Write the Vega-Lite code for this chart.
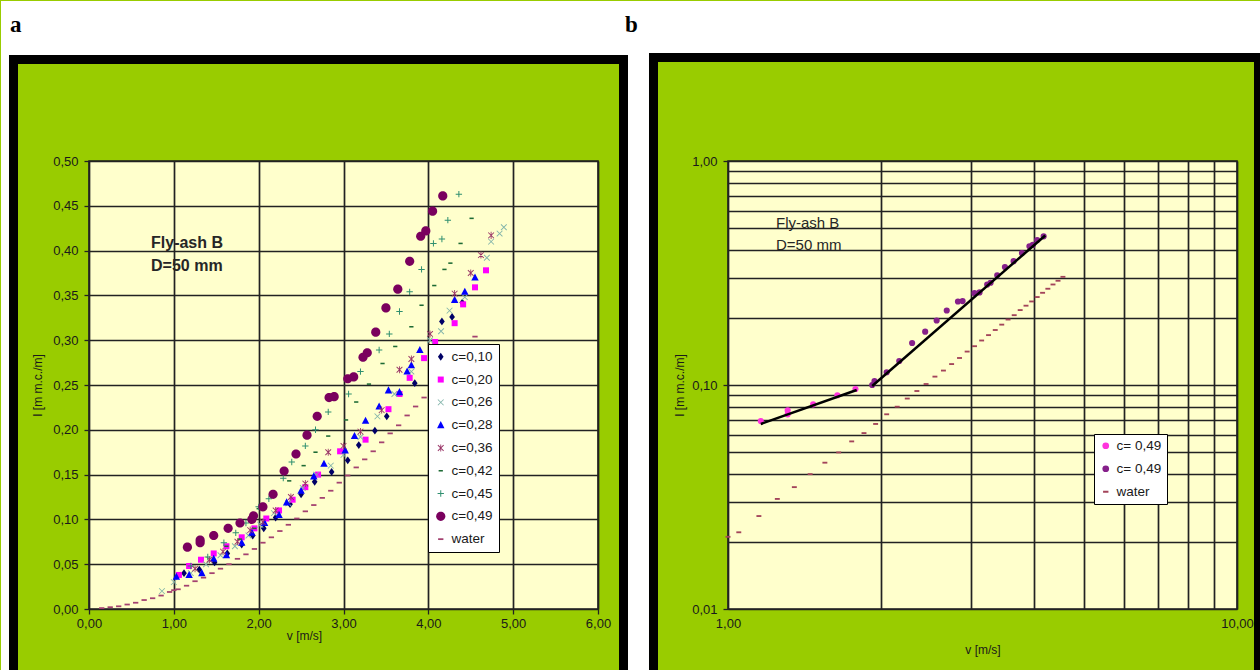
{
  "$schema": "https://vega.github.io/schema/vega-lite/v6.json",
  "background": "#99cc00",
  "padding": 0,
  "spacing": 130,
  "bounds": "flush",
  "resolve": {"scale": {"color": "independent", "shape": "independent"}, "legend": {"color": "independent", "shape": "independent"}},
  "config": {
    "locale": {"number": {"decimal": ",", "thousands": ".", "grouping": [3], "currency": ["", " €"]}},
    "view": {"fill": "#ffffcc", "stroke": "#222222", "strokeWidth": 1.6},
    "axis": {
      "labelFont": "Liberation Sans", "labelFontSize": 13, "labelColor": "#1a1a1a",
      "titleFont": "Liberation Sans", "titleFontSize": 12, "titleFontWeight": "normal", "titleColor": "#1a1a1a",
      "tickColor": "#222222", "tickSize": 5, "tickWidth": 1.3,
      "gridColor": "#222222", "gridWidth": 1.7, "gridOpacity": 1,
      "domain": false, "labelFlush": false, "labelOverlap": false
    },
    "axisX": {"labelPadding": 3},
    "axisY": {"labelPadding": 6},
    "legend": {"labelFont": "Liberation Sans", "labelFontSize": 13.5, "labelColor": "#1a1a1a"}
  },
  "datasets": {
    "pts": [
      {"s":"c=0,10","v":1.12,"I":0.040},{"s":"c=0,10","v":1.30,"I":0.044},{"s":"c=0,10","v":1.48,"I":0.052},{"s":"c=0,10","v":1.63,"I":0.062},{"s":"c=0,10","v":1.80,"I":0.072},{"s":"c=0,10","v":1.93,"I":0.082},{"s":"c=0,10","v":2.06,"I":0.090},{"s":"c=0,10","v":2.20,"I":0.102},{"s":"c=0,10","v":2.37,"I":0.117},{"s":"c=0,10","v":2.50,"I":0.128},{"s":"c=0,10","v":2.66,"I":0.142},{"s":"c=0,10","v":2.86,"I":0.153},{"s":"c=0,10","v":3.05,"I":0.166},{"s":"c=0,10","v":3.18,"I":0.183},{"s":"c=0,10","v":3.37,"I":0.199},{"s":"c=0,10","v":3.51,"I":0.215},{"s":"c=0,10","v":3.84,"I":0.252},{"s":"c=0,10","v":4.16,"I":0.321},{"s":"c=0,10","v":4.28,"I":0.326},{"s":"c=0,10","v":4.40,"I":0.342},
      {"s":"c=0,20","v":1.06,"I":0.038},{"s":"c=0,20","v":1.18,"I":0.048},{"s":"c=0,20","v":1.32,"I":0.055},{"s":"c=0,20","v":1.47,"I":0.062},{"s":"c=0,20","v":1.62,"I":0.070},{"s":"c=0,20","v":1.80,"I":0.080},{"s":"c=0,20","v":1.95,"I":0.090},{"s":"c=0,20","v":2.09,"I":0.101},{"s":"c=0,20","v":2.24,"I":0.110},{"s":"c=0,20","v":2.40,"I":0.122},{"s":"c=0,20","v":2.55,"I":0.136},{"s":"c=0,20","v":2.70,"I":0.150},{"s":"c=0,20","v":2.96,"I":0.176},{"s":"c=0,20","v":3.26,"I":0.189},{"s":"c=0,20","v":3.53,"I":0.223},{"s":"c=0,20","v":3.66,"I":0.240},{"s":"c=0,20","v":3.78,"I":0.258},{"s":"c=0,20","v":3.95,"I":0.280},{"s":"c=0,20","v":4.08,"I":0.298},{"s":"c=0,20","v":4.31,"I":0.319},{"s":"c=0,20","v":4.41,"I":0.340},{"s":"c=0,20","v":4.55,"I":0.359},{"s":"c=0,20","v":4.68,"I":0.378},
      {"s":"c=0,26","v":0.86,"I":0.020},{"s":"c=0,26","v":1.00,"I":0.030},{"s":"c=0,26","v":1.20,"I":0.040},{"s":"c=0,26","v":1.38,"I":0.050},{"s":"c=0,26","v":1.55,"I":0.060},{"s":"c=0,26","v":1.72,"I":0.070},{"s":"c=0,26","v":1.88,"I":0.082},{"s":"c=0,26","v":2.02,"I":0.094},{"s":"c=0,26","v":2.18,"I":0.107},{"s":"c=0,26","v":2.35,"I":0.118},{"s":"c=0,26","v":2.52,"I":0.135},{"s":"c=0,26","v":2.68,"I":0.150},{"s":"c=0,26","v":2.85,"I":0.160},{"s":"c=0,26","v":3.00,"I":0.172},{"s":"c=0,26","v":3.20,"I":0.192},{"s":"c=0,26","v":3.40,"I":0.215},{"s":"c=0,26","v":3.60,"I":0.240},{"s":"c=0,26","v":3.80,"I":0.265},{"s":"c=0,26","v":4.02,"I":0.300},{"s":"c=0,26","v":4.15,"I":0.310},{"s":"c=0,26","v":4.25,"I":0.333},{"s":"c=0,26","v":4.43,"I":0.348},{"s":"c=0,26","v":4.69,"I":0.392},{"s":"c=0,26","v":4.74,"I":0.410},{"s":"c=0,26","v":4.84,"I":0.419},{"s":"c=0,26","v":4.89,"I":0.426},
      {"s":"c=0,28","v":1.03,"I":0.036},{"s":"c=0,28","v":1.18,"I":0.038},{"s":"c=0,28","v":1.33,"I":0.040},{"s":"c=0,28","v":1.47,"I":0.056},{"s":"c=0,28","v":1.62,"I":0.060},{"s":"c=0,28","v":1.80,"I":0.074},{"s":"c=0,28","v":1.92,"I":0.085},{"s":"c=0,28","v":2.07,"I":0.096},{"s":"c=0,28","v":2.24,"I":0.105},{"s":"c=0,28","v":2.33,"I":0.119},{"s":"c=0,28","v":2.50,"I":0.132},{"s":"c=0,28","v":2.65,"I":0.148},{"s":"c=0,28","v":2.77,"I":0.162},{"s":"c=0,28","v":3.02,"I":0.177},{"s":"c=0,28","v":3.13,"I":0.193},{"s":"c=0,28","v":3.26,"I":0.210},{"s":"c=0,28","v":3.42,"I":0.226},{"s":"c=0,28","v":3.53,"I":0.244},{"s":"c=0,28","v":3.66,"I":0.242},{"s":"c=0,28","v":3.75,"I":0.265},{"s":"c=0,28","v":3.80,"I":0.272},{"s":"c=0,28","v":3.90,"I":0.289},{"s":"c=0,28","v":4.31,"I":0.345},{"s":"c=0,28","v":4.43,"I":0.354},{"s":"c=0,28","v":4.55,"I":0.370},
      {"s":"c=0,36","v":1.25,"I":0.045},{"s":"c=0,36","v":1.42,"I":0.055},{"s":"c=0,36","v":1.58,"I":0.064},{"s":"c=0,36","v":1.75,"I":0.075},{"s":"c=0,36","v":1.90,"I":0.088},{"s":"c=0,36","v":2.05,"I":0.097},{"s":"c=0,36","v":2.20,"I":0.110},{"s":"c=0,36","v":2.38,"I":0.125},{"s":"c=0,36","v":2.55,"I":0.140},{"s":"c=0,36","v":2.82,"I":0.175},{"s":"c=0,36","v":3.00,"I":0.182},{"s":"c=0,36","v":3.20,"I":0.198},{"s":"c=0,36","v":3.45,"I":0.222},{"s":"c=0,36","v":3.66,"I":0.267},{"s":"c=0,36","v":3.80,"I":0.279},{"s":"c=0,36","v":4.02,"I":0.307},{"s":"c=0,36","v":4.31,"I":0.352},{"s":"c=0,36","v":4.50,"I":0.375},{"s":"c=0,36","v":4.62,"I":0.395},{"s":"c=0,36","v":4.74,"I":0.417},
      {"s":"c=0,42","v":1.62,"I":0.070},{"s":"c=0,42","v":1.78,"I":0.078},{"s":"c=0,42","v":1.95,"I":0.090},{"s":"c=0,42","v":2.00,"I":0.112},{"s":"c=0,42","v":2.17,"I":0.128},{"s":"c=0,42","v":2.36,"I":0.143},{"s":"c=0,42","v":2.53,"I":0.160},{"s":"c=0,42","v":2.67,"I":0.175},{"s":"c=0,42","v":2.82,"I":0.193},{"s":"c=0,42","v":3.03,"I":0.211},{"s":"c=0,42","v":3.15,"I":0.231},{"s":"c=0,42","v":3.30,"I":0.251},{"s":"c=0,42","v":3.46,"I":0.274},{"s":"c=0,42","v":3.61,"I":0.293},{"s":"c=0,42","v":3.80,"I":0.315},{"s":"c=0,42","v":3.92,"I":0.339},{"s":"c=0,42","v":4.07,"I":0.361},{"s":"c=0,42","v":4.19,"I":0.379},{"s":"c=0,42","v":4.26,"I":0.386},{"s":"c=0,42","v":4.38,"I":0.408},{"s":"c=0,42","v":4.51,"I":0.436},
      {"s":"c=0,45","v":1.20,"I":0.048},{"s":"c=0,45","v":1.40,"I":0.058},{"s":"c=0,45","v":1.59,"I":0.074},{"s":"c=0,45","v":1.73,"I":0.085},{"s":"c=0,45","v":1.85,"I":0.096},{"s":"c=0,45","v":2.00,"I":0.114},{"s":"c=0,45","v":2.12,"I":0.123},{"s":"c=0,45","v":2.29,"I":0.146},{"s":"c=0,45","v":2.39,"I":0.164},{"s":"c=0,45","v":2.55,"I":0.182},{"s":"c=0,45","v":2.67,"I":0.200},{"s":"c=0,45","v":2.82,"I":0.220},{"s":"c=0,45","v":3.06,"I":0.240},{"s":"c=0,45","v":3.20,"I":0.265},{"s":"c=0,45","v":3.42,"I":0.289},{"s":"c=0,45","v":3.54,"I":0.307},{"s":"c=0,45","v":3.66,"I":0.332},{"s":"c=0,45","v":3.78,"I":0.354},{"s":"c=0,45","v":3.92,"I":0.379},{"s":"c=0,45","v":4.06,"I":0.408},{"s":"c=0,45","v":4.16,"I":0.413},{"s":"c=0,45","v":4.23,"I":0.434},{"s":"c=0,45","v":4.36,"I":0.463},
      {"s":"c=0,49","part":"p1","v":1.16,"I":0.069},{"s":"c=0,49","part":"p1","v":1.31,"I":0.077},{"s":"c=0,49","part":"p1","v":1.31,"I":0.074},{"s":"c=0,49","part":"p1","v":1.47,"I":0.082},{"s":"c=0,49","part":"p1","v":1.64,"I":0.090},{"s":"c=0,49","part":"p1","v":1.78,"I":0.096},{"s":"c=0,49","part":"p2","v":1.92,"I":0.100},{"s":"c=0,49","part":"p2","v":1.94,"I":0.104},{"s":"c=0,49","part":"p2","v":2.05,"I":0.114},{"s":"c=0,49","part":"p2","v":2.17,"I":0.128},{"s":"c=0,49","part":"p2","v":2.30,"I":0.154},{"s":"c=0,49","part":"p2","v":2.44,"I":0.173},{"s":"c=0,49","part":"p2","v":2.57,"I":0.194},{"s":"c=0,49","part":"p2","v":2.69,"I":0.215},{"s":"c=0,49","part":"p2","v":2.83,"I":0.236},{"s":"c=0,49","part":"p2","v":2.89,"I":0.237},{"s":"c=0,49","part":"p2","v":3.05,"I":0.257},{"s":"c=0,49","part":"p2","v":3.12,"I":0.259},{"s":"c=0,49","part":"p2","v":3.23,"I":0.281},{"s":"c=0,49","part":"p2","v":3.28,"I":0.286},{"s":"c=0,49","part":"p2","v":3.38,"I":0.309},{"s":"c=0,49","part":"p2","v":3.50,"I":0.336},{"s":"c=0,49","part":"p2","v":3.64,"I":0.357},{"s":"c=0,49","part":"p2","v":3.78,"I":0.388},{"s":"c=0,49","part":"p2","v":3.91,"I":0.416},{"s":"c=0,49","part":"p2","v":3.97,"I":0.422},{"s":"c=0,49","part":"p2","v":4.05,"I":0.444},{"s":"c=0,49","part":"p2","v":4.17,"I":0.461},
      {"s":"water","part":"water","v":0.15,"I":0.001},{"s":"water","part":"water","v":0.25,"I":0.002},{"s":"water","part":"water","v":0.35,"I":0.003},{"s":"water","part":"water","v":0.45,"I":0.005},{"s":"water","part":"water","v":0.55,"I":0.007},{"s":"water","part":"water","v":0.65,"I":0.010},{"s":"water","part":"water","v":0.75,"I":0.012},{"s":"water","part":"water","v":0.85,"I":0.015},{"s":"water","part":"water","v":0.95,"I":0.019},{"s":"water","part":"water","v":1.00,"I":0.021},{"s":"water","part":"water","v":1.05,"I":0.022},{"s":"water","part":"water","v":1.15,"I":0.026},{"s":"water","part":"water","v":1.25,"I":0.031},{"s":"water","part":"water","v":1.35,"I":0.035},{"s":"water","part":"water","v":1.45,"I":0.040},{"s":"water","part":"water","v":1.55,"I":0.045},{"s":"water","part":"water","v":1.65,"I":0.050},{"s":"water","part":"water","v":1.75,"I":0.056},{"s":"water","part":"water","v":1.85,"I":0.061},{"s":"water","part":"water","v":1.95,"I":0.067},{"s":"water","part":"water","v":2.05,"I":0.074},{"s":"water","part":"water","v":2.15,"I":0.080},{"s":"water","part":"water","v":2.25,"I":0.087},{"s":"water","part":"water","v":2.35,"I":0.094},{"s":"water","part":"water","v":2.45,"I":0.101},{"s":"water","part":"water","v":2.55,"I":0.109},{"s":"water","part":"water","v":2.65,"I":0.116},{"s":"water","part":"water","v":2.75,"I":0.124},{"s":"water","part":"water","v":2.85,"I":0.132},{"s":"water","part":"water","v":2.95,"I":0.141},{"s":"water","part":"water","v":3.05,"I":0.149},{"s":"water","part":"water","v":3.15,"I":0.158},{"s":"water","part":"water","v":3.25,"I":0.167},{"s":"water","part":"water","v":3.35,"I":0.176},{"s":"water","part":"water","v":3.45,"I":0.186},{"s":"water","part":"water","v":3.55,"I":0.196},{"s":"water","part":"water","v":3.65,"I":0.205},{"s":"water","part":"water","v":3.75,"I":0.216},{"s":"water","part":"water","v":3.85,"I":0.226},{"s":"water","part":"water","v":3.95,"I":0.236},{"s":"water","part":"water","v":4.05,"I":0.247},{"s":"water","part":"water","v":4.15,"I":0.258},{"s":"water","part":"water","v":4.25,"I":0.269},{"s":"water","part":"water","v":4.35,"I":0.281},{"s":"water","part":"water","v":4.45,"I":0.292},{"s":"water","part":"water","v":4.55,"I":0.304}
    ],
    "trend": [
      {"seg":"A","v":1.16,"I":0.067},{"seg":"A","v":1.79,"I":0.095},
      {"seg":"B","v":1.92,"I":0.099},{"seg":"B","v":4.20,"I":0.465}
    ]
  },
  "hconcat": [
    {
      "width": 509,
      "height": 448,
      "layer": [
        {"data": {"values": [{}]}, "mark": {"type": "rect", "color": "#ffffff"}, "encoding": {"x": {"datum": -1.037328, "type": "quantitative", "scale": {"domain": [0, 6], "nice": false, "zero": false}}, "x2": {"datum": 13.815306}, "y": {"datum": 0.678571, "type": "quantitative", "scale": {"domain": [0, 0.5], "nice": false, "zero": false}}, "y2": {"datum": 0.618304}}},
        {"data": {"values": [{}]}, "mark": {"type": "rect", "color": "#ffffff"}, "encoding": {"x": {"datum": -1.037328, "type": "quantitative", "scale": {"domain": [0, 6], "nice": false, "zero": false}}, "x2": {"datum": -0.943026}, "y": {"datum": 0.678571, "type": "quantitative", "scale": {"domain": [0, 0.5], "nice": false, "zero": false}}, "y2": {"datum": -0.069196}}},
        {"data": {"values": [{}]}, "mark": {"type": "rect", "color": "#ffffff"}, "encoding": {"x": {"datum": 6.353635, "type": "quantitative", "scale": {"domain": [0, 6], "nice": false, "zero": false}}, "x2": {"datum": 6.601178}, "y": {"datum": 0.678571, "type": "quantitative", "scale": {"domain": [0, 0.5], "nice": false, "zero": false}}, "y2": {"datum": -0.069196}}},
        {"data": {"values": [{}]}, "mark": {"type": "rect", "color": "#000000"}, "encoding": {"x": {"datum": -0.943026, "type": "quantitative", "scale": {"domain": [0, 6], "nice": false, "zero": false}}, "x2": {"datum": -0.836935}, "y": {"datum": 0.618304, "type": "quantitative", "scale": {"domain": [0, 0.5], "nice": false, "zero": false}}, "y2": {"datum": -0.069196}}},
        {"data": {"values": [{}]}, "mark": {"type": "rect", "color": "#000000"}, "encoding": {"x": {"datum": -0.943026, "type": "quantitative", "scale": {"domain": [0, 6], "nice": false, "zero": false}}, "x2": {"datum": 6.353635}, "y": {"datum": 0.618304, "type": "quantitative", "scale": {"domain": [0, 0.5], "nice": false, "zero": false}}, "y2": {"datum": 0.608259}}},
        {"data": {"values": [{}]}, "mark": {"type": "rect", "color": "#000000"}, "encoding": {"x": {"datum": 6.247544, "type": "quantitative", "scale": {"domain": [0, 6], "nice": false, "zero": false}}, "x2": {"datum": 6.353635}, "y": {"datum": 0.618304, "type": "quantitative", "scale": {"domain": [0, 0.5], "nice": false, "zero": false}}, "y2": {"datum": -0.069196}}},
        {"data": {"values": [{}]}, "mark": {"type": "rect", "color": "#000000"}, "encoding": {"x": {"datum": 6.601178, "type": "quantitative", "scale": {"domain": [0, 6], "nice": false, "zero": false}}, "x2": {"datum": 6.70727}, "y": {"datum": 0.620536, "type": "quantitative", "scale": {"domain": [0, 0.5], "nice": false, "zero": false}}, "y2": {"datum": -0.069196}}},
        {"data": {"values": [{}]}, "mark": {"type": "rect", "color": "#000000"}, "encoding": {"x": {"datum": 6.601178, "type": "quantitative", "scale": {"domain": [0, 6], "nice": false, "zero": false}}, "x2": {"datum": 13.815306}, "y": {"datum": 0.620536, "type": "quantitative", "scale": {"domain": [0, 0.5], "nice": false, "zero": false}}, "y2": {"datum": 0.610491}}},
        {"data": {"values": [{}]}, "mark": {"type": "rect", "color": "#000000"}, "encoding": {"x": {"datum": 13.73279, "type": "quantitative", "scale": {"domain": [0, 6], "nice": false, "zero": false}}, "x2": {"datum": 13.815306}, "y": {"datum": 0.620536, "type": "quantitative", "scale": {"domain": [0, 0.5], "nice": false, "zero": false}}, "y2": {"datum": -0.069196}}},
        {"data": {"values": [{}]}, "mark": {"type": "text", "font": "Liberation Serif", "fontWeight": "bold", "fontSize": 23, "align": "left", "baseline": "alphabetic", "color": "#000000"}, "encoding": {"x": {"datum": -0.931239, "type": "quantitative", "scale": {"domain": [0, 6], "nice": false, "zero": false}}, "y": {"datum": 0.643973, "type": "quantitative", "scale": {"domain": [0, 0.5], "nice": false, "zero": false}}, "text": {"value": "a"}}},
        {"data": {"values": [{}]}, "mark": {"type": "text", "font": "Liberation Serif", "fontWeight": "bold", "fontSize": 23, "align": "left", "baseline": "alphabetic", "color": "#000000"}, "encoding": {"x": {"datum": 6.318271, "type": "quantitative", "scale": {"domain": [0, 6], "nice": false, "zero": false}}, "y": {"datum": 0.643973, "type": "quantitative", "scale": {"domain": [0, 0.5], "nice": false, "zero": false}}, "text": {"value": "b"}}},
        {
          "data": {"name": "pts"},
          "mark": {"type": "point", "filled": true, "opacity": 1, "size": 50},
          "encoding": {
            "x": {"field": "v", "type": "quantitative", "scale": {"domain": [0, 6], "nice": false, "zero": false}, "axis": {"values": [0, 1, 2, 3, 4, 5, 6], "format": ".2f", "title": "v [m/s]", "titleX": 215, "titlePadding": 0, "grid": true}},
            "y": {"field": "I", "type": "quantitative", "scale": {"domain": [0, 0.5], "nice": false, "zero": false}, "axis": {"values": [0, 0.05, 0.1, 0.15, 0.2, 0.25, 0.3, 0.35, 0.4, 0.45, 0.5], "format": ".2f", "title": "I [m m.c./m]", "titlePadding": 8, "grid": true}},
            "color": {"field": "s", "type": "nominal",
              "scale": {"domain": ["c=0,10","c=0,20","c=0,26","c=0,28","c=0,36","c=0,42","c=0,45","c=0,49","water"], "range": ["#000066","#ff00ff","#82b4aa","#0000ff","#993366","#1d6a34","#2f8f6f","#7a005e","#a34170"]},
              "legend": {"title": null, "orient": "none", "legendX": 339, "legendY": 183, "fillColor": "#ffffff", "strokeColor": "#000000", "padding": 6, "rowPadding": 7.8, "labelOffset": 4, "symbolSize": 50, "symbolStrokeWidth": 0}},
            "shape": {"field": "s", "type": "nominal",
              "scale": {"domain": ["c=0,10","c=0,20","c=0,26","c=0,28","c=0,36","c=0,42","c=0,45","c=0,49","water"], "range": [
                "M0,-1.1L0.8,0L0,1.1L-0.8,0Z",
                "M-0.85,-0.85H0.85V0.85H-0.85Z",
                "M-0.9,-0.72L-0.72,-0.9L0.9,0.72L0.72,0.9Z M-0.9,0.72L0.72,-0.9L0.9,-0.72L-0.72,0.9Z",
                "M0,-1.15L1.05,0.85L-1.05,0.85Z",
                "M-0.9,-0.72L-0.72,-0.9L0.9,0.72L0.72,0.9Z M-0.9,0.72L0.72,-0.9L0.9,-0.72L-0.72,0.9Z M-0.12,-1L0.12,-1L0.12,1L-0.12,1Z",
                "M-0.6,-0.22H0.6V0.22H-0.6Z",
                "M-0.9,-0.14H-0.14V-0.9H0.14V-0.14H0.9V0.14H0.14V0.9H-0.14V0.14H-0.9Z",
                "M-1.3,0A1.3,1.3,0,1,0,1.3,0A1.3,1.3,0,1,0,-1.3,0Z",
                "M-0.75,-0.25H0.75V0.25H-0.75Z"
              ]},
              "legend": {"title": null, "orient": "none", "legendX": 339, "legendY": 183, "fillColor": "#ffffff", "strokeColor": "#000000", "padding": 6, "rowPadding": 7.8, "labelOffset": 4, "symbolSize": 50, "symbolStrokeWidth": 0}}
          }
        },
        {"data": {"values": [{}]}, "mark": {"type": "text", "font": "Liberation Sans", "fontSize": 16, "fontWeight": "bold", "color": "#262626", "align": "left", "baseline": "alphabetic", "lineHeight": 23}, "encoding": {"x": {"datum": 0.731, "type": "quantitative", "scale": {"domain": [0, 6], "nice": false, "zero": false}}, "y": {"datum": 0.4029, "type": "quantitative", "scale": {"domain": [0, 0.5], "nice": false, "zero": false}}, "text": {"value": ["Fly-ash B", "D=50 mm"]}}}
      ]
    },
    {
      "width": 509,
      "height": 448,
      "layer": [
        {
          "data": {"name": "pts"},
          "transform": [{"filter": {"field": "part", "oneOf": ["p1", "p2", "water"]}}, {"filter": {"field": "v", "gte": 1}}],
          "mark": {"type": "point", "filled": true, "opacity": 1, "size": 38},
          "encoding": {
            "x": {"field": "v", "type": "quantitative", "scale": {"type": "log", "domain": [1, 10], "nice": false}, "axis": {"values": [1, 2, 3, 4, 5, 6, 7, 8, 9, 10], "format": ".2f", "labelExpr": "datum.value == 1 || datum.value == 10 ? datum.label : ''", "tickOpacity": 0, "title": "v [m/s]", "titlePadding": 14, "grid": true}},
            "y": {"field": "I", "type": "quantitative", "scale": {"type": "log", "domain": [0.01, 1], "nice": false}, "axis": {"values": [0.01, 0.02, 0.03, 0.04, 0.05, 0.06, 0.07, 0.08, 0.09, 0.1, 0.2, 0.3, 0.4, 0.5, 0.6, 0.7, 0.8, 0.9, 1], "format": ".2f", "labelExpr": "datum.value == 0.01 || datum.value == 0.1 || datum.value == 1 ? datum.label : ''", "tickOpacity": {"condition": {"test": "datum.value == 0.01 || datum.value == 0.1 || datum.value == 1", "value": 1}, "value": 0}, "title": "I [m m.c./m]", "titlePadding": 5, "grid": true}},
            "color": {"field": "part", "type": "nominal",
              "scale": {"domain": ["p1", "p2", "water"], "range": ["#ff33dd", "#86208a", "#a3445a"]},
              "legend": {"title": null, "orient": "none", "legendX": 366, "legendY": 273, "fillColor": "#ffffff", "strokeColor": "#000000", "padding": 5, "rowPadding": 8, "labelOffset": 4, "symbolSize": 45, "symbolStrokeWidth": 0, "labelExpr": "datum.label == 'water' ? 'water' : 'c= 0,49'"}},
            "shape": {"field": "part", "type": "nominal",
              "scale": {"domain": ["p1", "p2", "water"], "range": ["circle", "circle", "M-0.8,-0.3H0.8V0.3H-0.8Z"]},
              "legend": {"title": null, "orient": "none", "legendX": 366, "legendY": 273, "fillColor": "#ffffff", "strokeColor": "#000000", "padding": 5, "rowPadding": 8, "labelOffset": 4, "symbolSize": 45, "symbolStrokeWidth": 0, "labelExpr": "datum.label == 'water' ? 'water' : 'c= 0,49'"}}
          }
        },
        {
          "data": {"name": "trend"},
          "mark": {"type": "line", "color": "#000000", "strokeWidth": 2.5},
          "encoding": {
            "x": {"field": "v", "type": "quantitative", "scale": {"type": "log", "domain": [1, 10], "nice": false}},
            "y": {"field": "I", "type": "quantitative", "scale": {"type": "log", "domain": [0.01, 1], "nice": false}},
            "detail": {"field": "seg", "type": "nominal"}
          }
        },
        {"data": {"values": [{}]}, "mark": {"type": "text", "font": "Liberation Sans", "fontSize": 15, "fontWeight": "normal", "color": "#262626", "align": "left", "baseline": "alphabetic", "lineHeight": 22}, "encoding": {"x": {"datum": 1.2427, "type": "quantitative", "scale": {"type": "log", "domain": [1, 10], "nice": false}}, "y": {"datum": 0.5022, "type": "quantitative", "scale": {"type": "log", "domain": [0.01, 1], "nice": false}}, "text": {"value": ["Fly-ash B", "D=50 mm"]}}}
      ]
    }
  ]
}
